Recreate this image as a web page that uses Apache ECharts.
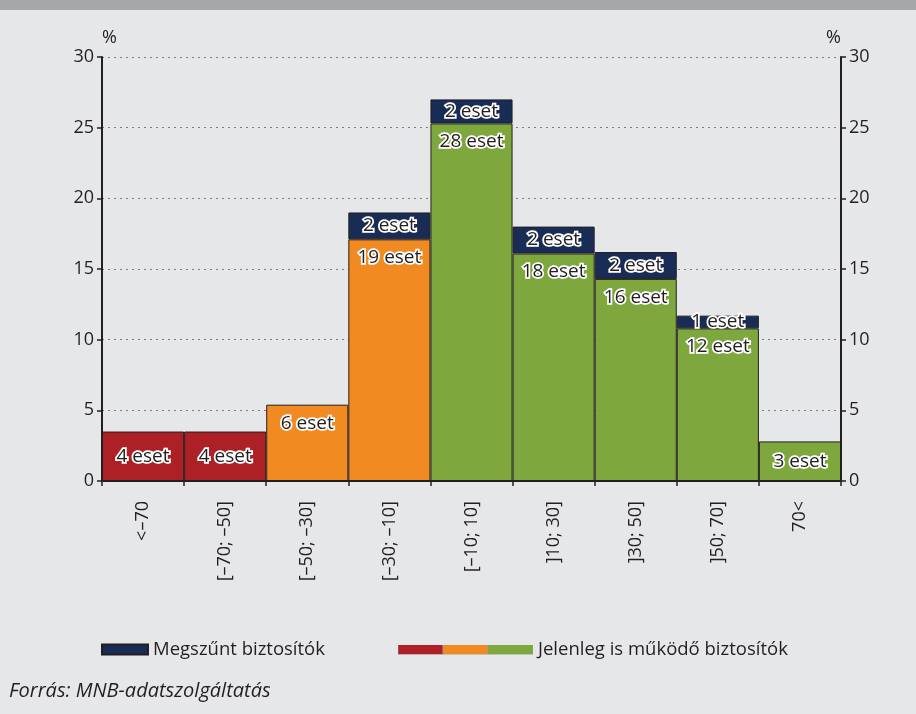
<!DOCTYPE html>
<html>
<head>
<meta charset="utf-8">
<script src="https://cdn.jsdelivr.net/npm/echarts@6/dist/echarts.min.js"></script>
<style>
  html, body { margin: 0; padding: 0; background: #e6e7e9; }
  #chart { width: 916px; height: 714px; }
</style>
</head>
<body>
<div id="chart"></div>
<script>
// kategóriák (változás, %)
const categories = ['<–70', '[–70; –50]', '[–50; –30]', '[–30; –10]', '[–10; 10]', ']10; 30]', ']30; 50]', ']50; 70]', '70<'];
// működő biztosítók aránya (%) és esetszám
const activeValues = [3.5, 3.5, 5.4, 17.1, 25.3, 16.1, 14.3, 10.8, 2.8];
const activeCounts = [4, 4, 6, 19, 28, 18, 16, 12, 3];
// megszűnt biztosítók aránya (%) és esetszám
const closedValues = [0, 0, 0, 1.9, 1.7, 1.9, 1.9, 0.9, 0];
const closedCounts = [0, 0, 0, 2, 2, 2, 2, 1, 0];
const yTicks = [0, 5, 10, 15, 20, 25, 30];

const RED = '#ad2126', ORANGE = '#f28a22', GREEN = '#7ea83e', NAVY = '#192c56';
const TEXT = '#231f20';
const FONT = '"Open Sans", sans-serif';
const barColors = [RED, RED, ORANGE, ORANGE, GREEN, GREEN, GREEN, GREEN, GREEN];
// alacsony oszlopoknál középre kerül a felirat
const smallBars = [true, true, false, false, false, false, false, false, true];

const labelStyle = {
  show: true,
  color: TEXT,
  fontFamily: FONT,
  fontSize: 19,
  textBorderColor: '#fff',
  textBorderWidth: 3.5
};

const triSvg = '<svg xmlns="http://www.w3.org/2000/svg" width="135" height="10" viewBox="0 0 135 10" preserveAspectRatio="none">' +
  '<rect x="0" y="0" width="45" height="10" fill="' + RED + '" stroke="#999" stroke-width="0.6"/>' +
  '<rect x="45" y="0" width="45" height="10" fill="' + ORANGE + '" stroke="#999" stroke-width="0.6"/>' +
  '<rect x="90" y="0" width="45" height="10" fill="' + GREEN + '" stroke="#999" stroke-width="0.6"/></svg>';
const triIcon = 'image://data:image/svg+xml;charset=utf-8,' + encodeURIComponent(triSvg);

const chart = echarts.init(document.getElementById('chart'));

const yAxisBase = {
  type: 'value',
  min: yTicks[0],
  max: yTicks[yTicks.length - 1],
  interval: 5,
  name: '%',
  nameLocation: 'end',
  nameGap: 10,
  axisLine: { show: true, lineStyle: { color: TEXT, width: 2 } },
  axisTick: { show: true, length: 5, lineStyle: { color: TEXT, width: 1.5 } },
  axisLabel: { color: TEXT, fontFamily: FONT, fontSize: 18, margin: 8 }
};

const option = {
  backgroundColor: '#e6e7e9',
  animation: false,
  graphic: [
    { type: 'rect', shape: { x: 0, y: 0, width: 916, height: 10 }, style: { fill: '#a6a7ab' }, silent: true }
  ],
  title: {
    text: 'Forrás: MNB-adatszolgáltatás',
    left: 4,
    top: 676,
    textStyle: { color: TEXT, fontFamily: FONT, fontSize: 20, fontStyle: 'italic', fontWeight: 'normal' }
  },
  legend: [
    {
      data: ['Megszűnt biztosítók'],
      left: 96,
      top: 635,
      itemWidth: 46,
      itemHeight: 10,
      itemGap: 8,
      icon: 'rect',
      textStyle: { color: TEXT, fontFamily: FONT, fontSize: 18.5 }
    },
    {
      data: [{ name: 'Jelenleg is működő biztosítók', icon: triIcon }],
      left: 393,
      top: 635,
      itemWidth: 135,
      itemHeight: 10,
      textStyle: { color: TEXT, fontFamily: FONT, fontSize: 18.5 }
    }
  ],
  grid: { left: 102, right: 75, top: 57, bottom: 233 },
  xAxis: {
    type: 'category',
    data: categories,
    axisLine: { lineStyle: { color: TEXT, width: 2 } },
    axisTick: { show: true, alignWithLabel: false, length: 5, lineStyle: { color: TEXT, width: 1.5 } },
    axisLabel: { rotate: 90, margin: 20, color: TEXT, fontFamily: FONT, fontSize: 18, interval: 0 }
  },
  yAxis: [
    Object.assign({}, yAxisBase, {
      position: 'left',
      nameTextStyle: { color: TEXT, fontFamily: FONT, fontSize: 18, align: 'left' },
      splitLine: { show: true, lineStyle: { color: '#7a7a7a', type: [2, 4], width: 1 } }
    }),
    Object.assign({}, yAxisBase, {
      position: 'right',
      nameTextStyle: { color: TEXT, fontFamily: FONT, fontSize: 18, align: 'right' },
      splitLine: { show: false }
    })
  ],
  series: [
    {
      name: 'Jelenleg is működő biztosítók',
      type: 'bar',
      stack: 'total',
      barCategoryGap: '0%',
      itemStyle: { color: GREEN, borderColor: TEXT, borderWidth: 1 },
      data: activeValues.map((v, i) => ({
        value: v,
        itemStyle: { color: barColors[i] },
        label: smallBars[i] ? { position: 'inside' } : { position: 'insideTop', distance: 9 }
      })),
      label: Object.assign({}, labelStyle, {
        formatter: p => activeCounts[p.dataIndex] + ' eset'
      })
    },
    {
      name: 'Megszűnt biztosítók',
      type: 'bar',
      stack: 'total',
      barCategoryGap: '0%',
      itemStyle: { color: NAVY, borderColor: TEXT, borderWidth: 1 },
      data: closedValues.map(v => (v > 0 ? v : '-')),
      label: Object.assign({}, labelStyle, {
        position: 'inside',
        formatter: p => closedCounts[p.dataIndex] + ' eset'
      })
    }
  ]
};

chart.setOption(option);
</script>
</body>
</html>
